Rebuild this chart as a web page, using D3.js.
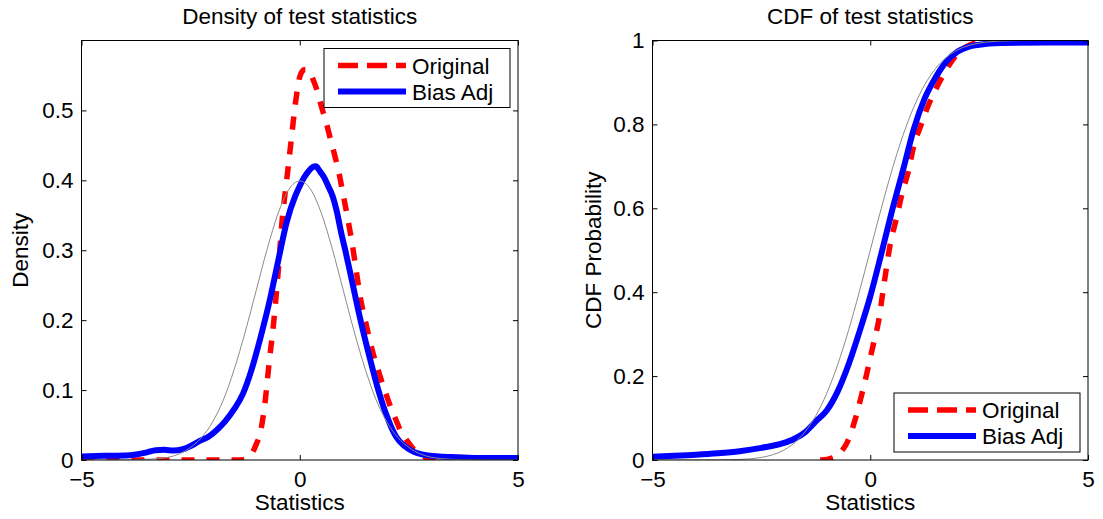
<!DOCTYPE html>
<html>
<head>
<meta charset="utf-8">
<script src="https://cdn.jsdelivr.net/npm/d3@7"></script>
<style>
  body { margin: 0; background: #fff; }
  text { font-family: "Liberation Sans", Arial, Helvetica, sans-serif; fill: #000; }
</style>
</head>
<body>
<svg id="fig" width="1103" height="519"></svg>
<script>
// ---- data ----
const statTicks = [-5, 0, 5];
const statTickLabels = ["\u22125", "0", "5"];
const densTicks = [0, 0.1, 0.2, 0.3, 0.4, 0.5];
const densTickLabels = ["0", "0.1", "0.2", "0.3", "0.4", "0.5"];
const cdfTicks = [0, 0.2, 0.4, 0.6, 0.8, 1];
const cdfTickLabels = ["0", "0.2", "0.4", "0.6", "0.8", "1"];
const seriesNames = ["Original", "Bias Adj"];

// density, original statistic (red dashed)
const origDensX = [-5, -4, -3, -2, -1.5, -1.3, -1.2, -1.1, -1.0, -0.9, -0.8, -0.7, -0.6, -0.5, -0.4, -0.3, -0.2, -0.1,
  0, 0.1, 0.2, 0.3, 0.4, 0.5, 0.6, 0.7, 0.8, 0.9, 1.0, 1.1, 1.2, 1.3, 1.4, 1.5, 1.6, 1.7, 1.8, 1.9, 2.0,
  2.1, 2.2, 2.3, 2.4, 2.5, 2.6, 2.7, 2.8, 2.9, 3.0, 3.2, 4, 5];
const origDens = [0, 0, 0, 0, 0, 0.0005, 0.003, 0.009, 0.022, 0.04, 0.08, 0.14, 0.195, 0.265, 0.345, 0.40, 0.455, 0.51,
  0.548, 0.558, 0.558, 0.545, 0.528, 0.505, 0.484, 0.46, 0.436, 0.41, 0.378, 0.345, 0.31, 0.268, 0.228, 0.2, 0.172, 0.148, 0.128, 0.108, 0.09,
  0.073, 0.058, 0.043, 0.033, 0.024, 0.016, 0.01, 0.006, 0.003, 0.0015, 0, 0, 0];

// density, bias adjusted statistic (blue solid)
const adjDensX = [-5, -4.5, -4, -3.75, -3.5, -3.3, -3.1, -2.9, -2.7, -2.5, -2.3, -2.1, -1.9, -1.7, -1.5, -1.3, -1.1, -0.9, -0.7, -0.5, -0.3, -0.1,
  0, 0.1, 0.2, 0.3, 0.37, 0.45, 0.55, 0.65, 0.75, 0.85, 0.95, 1.05, 1.2, 1.4, 1.6, 1.8, 2.0, 2.2, 2.4, 2.6, 2.8, 3.2, 3.6, 4.2, 5];
const adjDens = [0.005, 0.006, 0.0065, 0.008, 0.011, 0.014, 0.0145, 0.0135, 0.015, 0.02, 0.027, 0.033, 0.043, 0.056, 0.073, 0.095, 0.13, 0.175, 0.225, 0.283, 0.34, 0.378,
  0.392, 0.404, 0.413, 0.419, 0.42, 0.414, 0.405, 0.392, 0.378, 0.355, 0.325, 0.298, 0.255, 0.198, 0.147, 0.1, 0.062, 0.034, 0.02, 0.012, 0.008, 0.005, 0.004, 0.003, 0.003];

// standard normal reference (thin gray)
const normX = [-5, -4.75, -4.5, -4.25, -4, -3.75, -3.5, -3.25, -3, -2.75, -2.5, -2.25, -2, -1.75, -1.5, -1.25, -1, -0.75, -0.5, -0.25,
  0, 0.25, 0.5, 0.75, 1, 1.25, 1.5, 1.75, 2, 2.25, 2.5, 2.75, 3, 3.25, 3.5, 3.75, 4, 4.25, 4.5, 4.75, 5];
const normDens = [0, 0, 0, 0, 0.0001, 0.0004, 0.001, 0.002, 0.004, 0.009, 0.018, 0.032, 0.054, 0.086, 0.130, 0.183, 0.242, 0.301, 0.352, 0.387,
  0.399, 0.387, 0.352, 0.301, 0.242, 0.183, 0.130, 0.086, 0.054, 0.032, 0.018, 0.009, 0.004, 0.002, 0.001, 0.0004, 0.0001, 0, 0, 0, 0];
const normCdf = [0, 0, 0, 0, 0.00003, 0.0001, 0.0002, 0.0006, 0.0013, 0.003, 0.0062, 0.0122, 0.0228, 0.0401, 0.0668, 0.1056, 0.1587, 0.2266, 0.3085, 0.4013,
  0.5, 0.5987, 0.6915, 0.7734, 0.8413, 0.8944, 0.9332, 0.9599, 0.9772, 0.9878, 0.9938, 0.997, 0.9987, 0.9994, 0.9998, 0.9999, 1, 1, 1, 1, 1];

// empirical CDFs
const origCdfX = [-1.15, -1.0, -0.9, -0.77, -0.65, -0.53, -0.45, -0.38, -0.3, -0.23, -0.15, -0.08, 0, 0.08, 0.19, 0.31, 0.46, 0.61, 0.73,
  0.88, 0.99, 1.15, 1.3, 1.53, 1.76, 2.07, 2.3, 2.5, 2.7];
const origCdf = [0, 0.001, 0.004, 0.01, 0.022, 0.042, 0.062, 0.085, 0.113, 0.142, 0.175, 0.206, 0.243, 0.28, 0.33, 0.415, 0.515, 0.58, 0.635,
  0.69, 0.745, 0.794, 0.837, 0.889, 0.933, 0.976, 0.99, 0.998, 1];
const adjCdfX = [-5, -4.5, -4, -3.5, -3, -2.5, -2, -1.75, -1.5, -1.25, -1, -0.75, -0.5, -0.25, 0, 0.25, 0.5, 0.75, 1.0, 1.25, 1.5, 1.75, 2, 2.25, 2.5, 3, 4, 5];
const adjCdf = [0.008, 0.01, 0.0125, 0.016, 0.021, 0.029, 0.04, 0.05, 0.066, 0.092, 0.118, 0.163, 0.227, 0.305, 0.39, 0.49, 0.594, 0.69, 0.789, 0.862, 0.912, 0.95, 0.973, 0.985, 0.99, 0.994, 0.995, 0.995];

// ---- layout ----
const AX_TOP = 40.5;
const AX_BOTTOM = 460;
const TICK = 5;
const FONT = 22.5;
const LEG_W = 186, LEG_H = 59;

const svg = d3.select("#fig");

function drawPanel(cfg) {
  const x = d3.scaleLinear().domain([-5, 5]).range([cfg.left, cfg.right]);
  const y = d3.scaleLinear().domain(cfg.yDomain).range([AX_BOTTOM, AX_TOP]);

  svg.append("clipPath").attr("id", cfg.id + "-clip")
    .append("rect")
      .attr("x", cfg.left).attr("y", AX_TOP)
      .attr("width", cfg.right - cfg.left).attr("height", AX_BOTTOM - AX_TOP);

  const line = d3.line()
    .x(d => x(d[0]))
    .y(d => y(d[1]))
    .curve(d3.curveMonotoneX);

  const plot = svg.append("g").attr("clip-path", "url(#" + cfg.id + "-clip)");

  plot.append("path")
    .datum(d3.zip(cfg.origX, cfg.origY))
    .attr("d", line)
    .attr("fill", "none")
    .attr("stroke", "#ff0000")
    .attr("stroke-width", 5.5)
    .attr("stroke-dasharray", "13 12");

  plot.append("path")
    .datum(d3.zip(cfg.adjX, cfg.adjY))
    .attr("d", line)
    .attr("fill", "none")
    .attr("stroke", "#0000ff")
    .attr("stroke-width", 6)
    .attr("stroke-linejoin", "round");

  plot.append("path")
    .datum(d3.zip(normX, cfg.normY))
    .attr("d", line)
    .attr("fill", "none")
    .attr("stroke", "#8a8a8a")
    .attr("stroke-width", 1);

  // axes, ticks pointing inward on all four sides
  const bottom = svg.append("g")
    .attr("transform", "translate(0," + AX_BOTTOM + ")")
    .call(d3.axisBottom(x).tickValues(statTicks).tickFormat((d, i) => statTickLabels[i])
      .tickSize(-TICK).tickSizeOuter(0).tickPadding(11));
  const top = svg.append("g")
    .attr("transform", "translate(0," + AX_TOP + ")")
    .call(d3.axisTop(x).tickValues(statTicks).tickFormat("").tickSize(-TICK).tickSizeOuter(0));
  const left = svg.append("g")
    .attr("transform", "translate(" + cfg.left + ",0)")
    .call(d3.axisLeft(y).tickValues(cfg.yTicks).tickFormat((d, i) => cfg.yLabels[i])
      .tickSize(-TICK).tickSizeOuter(0).tickPadding(8));
  const right = svg.append("g")
    .attr("transform", "translate(" + cfg.right + ",0)")
    .call(d3.axisRight(y).tickValues(cfg.yTicks).tickFormat("").tickSize(-TICK).tickSizeOuter(0));

  [bottom, top, left, right].forEach(g => {
    g.select(".domain").remove();
    g.selectAll(".tick line").attr("stroke", "#000").attr("stroke-width", 1);
    g.selectAll(".tick text").attr("font-size", FONT)
      .attr("font-family", "Liberation Sans, Arial, sans-serif").attr("fill", "#000");
  });

  svg.append("rect")
    .attr("x", cfg.left).attr("y", AX_TOP)
    .attr("width", cfg.right - cfg.left).attr("height", AX_BOTTOM - AX_TOP)
    .attr("fill", "none").attr("stroke", "#000").attr("stroke-width", 1);

  const cx = (cfg.left + cfg.right) / 2;
  svg.append("text")
    .attr("x", cx).attr("y", 24)
    .attr("text-anchor", "middle")
    .attr("font-size", FONT)
    .text(cfg.title);

  svg.append("text")
    .attr("x", cx).attr("y", 510)
    .attr("text-anchor", "middle")
    .attr("font-size", FONT)
    .text("Statistics");

  svg.append("text")
    .attr("transform", "translate(" + cfg.yLabelX + "," + ((AX_TOP + AX_BOTTOM) / 2) + ") rotate(-90)")
    .attr("text-anchor", "middle")
    .attr("font-size", FONT)
    .text(cfg.yLabel);

  // legend
  const lx = cfg.right - 8 - LEG_W;
  const ly = cfg.legendTop ? AX_TOP + 8 : AX_BOTTOM - 8 - LEG_H;
  const leg = svg.append("g").attr("transform", "translate(" + lx + "," + ly + ")");
  leg.append("rect")
    .attr("width", LEG_W).attr("height", LEG_H)
    .attr("fill", "#fff").attr("stroke", "#000").attr("stroke-width", 1);
  const styles = [
    {color: "#ff0000", dash: "20 9", width: 5.5},
    {color: "#0000ff", dash: null, width: 6}
  ];
  seriesNames.forEach((name, i) => {
    const ry = 17 + i * 26;
    leg.append("line")
      .attr("x1", 14).attr("x2", 82)
      .attr("y1", ry).attr("y2", ry)
      .attr("stroke", styles[i].color)
      .attr("stroke-width", styles[i].width)
      .attr("stroke-dasharray", styles[i].dash);
    leg.append("text")
      .attr("x", 88).attr("y", ry + 8)
      .attr("font-size", FONT)
      .text(name);
  });
}

drawPanel({
  id: "dens",
  left: 81.5, right: 518,
  yDomain: [0, 0.6],
  yTicks: densTicks, yLabels: densTickLabels,
  origX: origDensX, origY: origDens,
  adjX: adjDensX, adjY: adjDens,
  normY: normDens,
  title: "Density of test statistics",
  yLabel: "Density",
  yLabelX: 28,
  legendTop: true
});

drawPanel({
  id: "cdf",
  left: 652.5, right: 1088,
  yDomain: [0, 1],
  yTicks: cdfTicks, yLabels: cdfTickLabels,
  origX: origCdfX, origY: origCdf,
  adjX: adjCdfX, adjY: adjCdf,
  normY: normCdf,
  title: "CDF of test statistics",
  yLabel: "CDF Probability",
  yLabelX: 601,
  legendTop: false
});
</script>
</body>
</html>
